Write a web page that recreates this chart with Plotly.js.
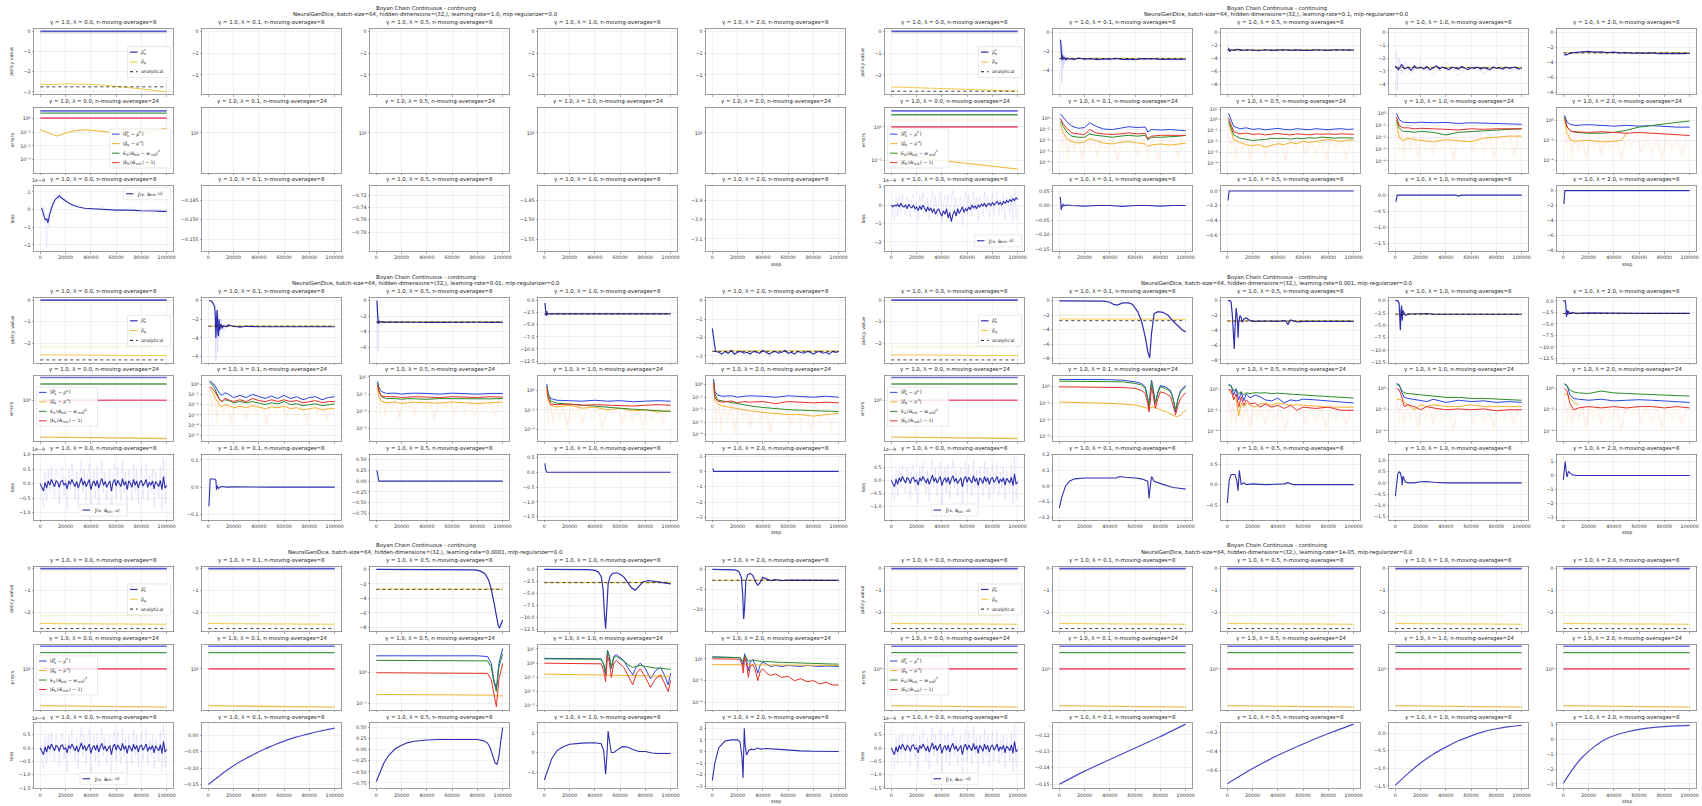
<!DOCTYPE html>
<html><head><meta charset="utf-8">
<script src="https://cdn.plot.ly/plotly-3.0.1.min.js"></script>
<style>html,body{margin:0;padding:0;background:#fff}#chart{width:1702px;height:806px}</style>
</head><body><div id="chart"></div>
<script>
// ---------------- text / categories ----------------
const SUPTITLE = 'Boyan Chain Continuous - continuing';
const LEARNING_RATES = ['1.0','0.1','0.01','0.001','0.0001','1e-05'];
const LAMBDAS = ['0.0','0.1','0.5','1.0','2.0'];
const MOVING_AVG = [8, 24, 8];
const ROW_LABELS = ['policy value','errors','loss'];
const STEP_TICKS = [0,20000,40000,60000,80000,100000];
const STEP_LABELS = ['0','20000','40000','60000','80000','100000'];
// legend labels: plain strings, or [superscript, subscript] pairs
const LEGEND_PV_SEGS = [['ρ̂',['c','π']], ['ρ̂',['','φ']], ['analytical']];
const LEGEND_ERR_SEGS = [
  ['|ρ̂',['c','π'],' − ρ',['π',''],'|'],
  ['|ρ̂',['','φ'],' − ρ',['π',''],'|'],
  ['E',['','D'],'(ŵ',['','π/D'],' − w',['','π/D'],')',['2','']],
  ['|E',['','D'],'(ŵ',['','π/D'],') − 1|']
];
const LEGEND_LOSS_SEGS = [['Ĵ(v, ŵ',['','π/D'],', u)']];
const SUPERSCRIPT = {'0':'⁰','1':'¹','2':'²','3':'³','4':'⁴','5':'⁵','6':'⁶','7':'⁷','8':'⁸','9':'⁹','-':'⁻'};

// ---------------- shared step grids ----------------
const X_FLAT = [0, 100000];
const X_FAINT_MID = [0, 88000];
const S5K = [0,5000,10000,15000,20000,25000,30000,35000,40000,45000,50000,55000,60000,65000,70000,75000,80000,85000,90000,95000,100000];
const S10 = [0,10000,20000,30000,40000,50000,60000,70000,80000,90000,100000];
const STEP_2500 = Array.from({length:41}, (_, i) => i * 2500);
const STEP_1250 = Array.from({length:81}, (_, i) => i * 1250);

// ---------------- common flat series ----------------
const PV_NAVY_FLAT = [0, 0];
const PV_FAINT_TOP = [-0.1, -0.1];
const PV_FAINT_MID = [-2.15, -2.15];
const PV_GOLD_FLAT = [-2.52, -2.55];
const PV_ANALYTICAL = [-2.75, -2.75];
const PV_CONV_GOLD = [-2.72, -2.72];
const ERR_BLUE_FLAT = [3.5, 3.5];
const ERR_GREEN_FLAT = [2.45, 2.45];
const ERR_RED_FLAT = [1.0, 1.0];
const ERR_GOLD_FLAT = [0.13, 0.12];

const LOSS_NOISE = [0.0,-0.12,-0.25,0.05,-0.15,0.1,-0.05,0.15,0.0,-0.1,
 0.1,0.05,-0.12,0.08,0.12,-0.05,0.02,-0.18,0.1,-0.02,
 0.15,0.05,-0.1,0.08,-0.15,0.02,0.2,-0.05,0.1,-0.1,
 0.05,0.15,-0.2,0.0,0.1,-0.08,0.12,-0.15,0.05,0.18,
 -0.05,0.08,-0.12,0.02,0.1,-0.25,0.05,0.15,-0.08,0.12,
 0.0,-0.1,0.18,-0.05,0.08,-0.2,0.1,0.02,-0.12,0.15,
 -0.05,0.1,-0.15,0.05,0.12,-0.08,0.02,0.15,-0.12,0.05,
 -0.05,0.1,-0.18,0.08,0.0,-0.1,0.12,-0.2,0.25,-0.15,
 -0.05];
const LOSS_RAW = [0.1,-0.5,-0.8,0.4,-0.6,0.5,-0.3,0.6,-0.2,-0.5,
 0.5,0.3,-0.7,0.4,0.6,-0.4,0.2,-0.9,0.5,-0.2,
 0.7,0.1,-0.5,0.4,-0.8,0.2,0.8,-0.3,0.5,-0.6,
 0.3,0.7,-1.0,0.1,0.5,-0.5,0.6,-0.7,0.3,0.8,
 -0.3,0.4,-0.6,0.2,0.5,-1.1,0.3,0.7,-0.5,0.6,
 0.1,-0.6,0.8,-0.3,0.4,-0.9,0.5,0.1,-0.6,0.7,
 -0.3,0.5,-0.7,0.3,0.6,-0.5,0.1,0.7,-0.6,0.3,
 -0.3,0.5,-0.8,0.4,0.0,-0.5,0.6,-0.9,0.9,-0.7,
 -0.2];
const RAW_SPIKE_X = [1000,3000,5000,7000,9000,12000,15000,18000,21000,24000,27000,30000,34000,38000,42000,46000,50000,54000,58000,62000,66000,70000,74000,78000,82000,86000,90000,94000,98000];
const RAW_SPIKE_R = [0.5,0.005,0.08,0.0008,0.05,0.002,0.04,0.0003,0.05,0.003,0.04,0.0006,0.05,0.002,0.04,0.0002,0.05,0.004,0.04,0.0008,0.05,0.001,0.04,0.0003,0.05,0.002,0.04,0.0005,0.05];
const RAW_SPIKE_Y = [0.1,0.0005,0.02,0.0002,0.01,0.0008,0.015,0.0001,0.01,0.001,0.008,0.0003,0.012,0.0006,0.01,0.0001,0.01,0.002,0.009,0.0004,0.012,0.0003,0.01,0.0001,0.01,0.0008,0.009,0.0002,0.01];

// ---------------- panel A : learning-rate 1.0 ----------------
const X_A_GOLD = [0,10000,20000,30000,40000,50000,60000,70000,80000,90000,100000];
const PV_A_GOLD = [-2.62,-2.64,-2.6,-2.6,-2.63,-2.67,-2.72,-2.78,-2.85,-2.93,-3.0];
const ERR_A_BLUE = [3.5,3.5];
const ERR_A_GREEN = [2.4,2.4];
const ERR_A_RED = [1.05,1.05];
const X_A_ERR_GOLD = [0,4000,8000,13000,20000,28000,36000,45000,55000,65000,75000,85000,92000,100000];
const ERR_A_GOLD = [0.15,0.11,0.075,0.052,0.085,0.13,0.15,0.12,0.1,0.09,0.08,0.09,0.14,0.2];
const X_A_LOSS = [1000,2000,3000,4000,5000,6000,7000,8000,10000,12000,14000,15000,16000,18000,20000,23000,26000,30000,35000,40000,45000,50000,55000,60000,65000,70000,75000,80000,85000,90000,95000,100000];
const LOSS_A = [0.1,-0.1,-0.3,-0.6,-0.5,-0.75,-0.4,-0.1,0.3,0.6,0.7,0.8,0.7,0.6,0.5,0.35,0.25,0.15,0.08,0.05,0.02,0.0,-0.02,-0.03,-0.02,-0.05,-0.04,-0.06,-0.05,-0.08,-0.1,-0.1];
const X_A_LOSS_RAW = [1000,2000,3000,4000,5000,6000,7000,8000,9000,10000,12000,14000,16000,18000,20000,25000,30000,40000,50000,60000,70000,80000,90000,100000];
const LOSS_A_RAW = [0.3,-0.4,0.2,-1.2,-2.2,-0.2,-1.0,0.2,-0.2,0.6,0.9,0.5,1.0,0.4,0.7,0.2,0.3,-0.1,0.15,-0.15,0.1,-0.2,0.05,-0.15];

// ---------------- panel B : learning-rate 0.1 ----------------
const X_B_GOLD = [0,25000,50000,75000,100000];
const PV_B_GOLD = [-2.55,-2.6,-2.65,-2.7,-2.74];
const X_B2 = [1000,1500,2000,2500,3000,4000,5000,6000,8000,10000,12000,15000,20000,25000,30000,35000,40000,45000,50000,55000,60000,65000,70000,75000,80000,85000,90000,95000,100000];
const PV_B2 = [-0.8,-1.6,-2.9,-2.4,-2.8,-2.6,-2.9,-2.7,-2.8,-2.75,-2.85,-2.7,-2.8,-2.75,-2.85,-2.78,-2.8,-2.72,-2.82,-2.8,-2.85,-2.75,-2.8,-2.78,-2.82,-2.8,-2.78,-2.8,-2.8];
const X_B2_RAW = [1000,1500,2000,2500,3000,3500,4000,5000,6000,8000,10000,15000,20000,30000,40000,50000,55000,60000,70000,80000,90000,100000];
const PV_B2_RAW = [-0.8,-3.5,-5.3,-1.5,-3.8,-2.2,-3.3,-2.4,-3.1,-2.5,-3.0,-2.6,-3.0,-2.6,-3.0,-2.5,-3.1,-2.7,-2.9,-2.6,-3.0,-2.8];
const X_B3 = [1000,2000,3000,5000,8000,12000,16000,20000,25000,30000,35000,40000,45000,50000,55000,60000,65000,70000,75000,80000,85000,90000,95000,100000];
const PV_B3 = [-2.4,-3.0,-2.7,-2.8,-2.65,-2.8,-2.7,-2.75,-2.85,-2.7,-2.8,-2.75,-2.7,-2.8,-2.72,-2.78,-2.8,-2.7,-2.75,-2.8,-2.7,-2.75,-2.72,-2.75];
const PV_B4 = [-2.6,-2.9,-2.5,-2.85,-2.7,-2.95,-2.6,-2.8,-2.7,-2.85,
 -2.65,-2.9,-2.75,-2.6,-2.85,-2.7,-2.8,-2.9,-2.7,-2.75,
 -2.85,-2.65,-2.8,-2.9,-2.75,-2.8,-2.7,-2.85,-2.75,-2.8,
 -2.9,-2.7,-2.8,-2.75,-2.85,-2.7,-2.8,-2.75,-2.7,-2.85,
 -2.75];
const X_B4_RAW = [1000,1500,2000,3000,5000,8000,12000,20000,30000,40000,50000,60000,70000,80000,90000,100000];
const PV_B4_RAW = [-1.5,-4.5,-3.5,-2.0,-3.3,-2.2,-3.2,-2.4,-3.3,-2.3,-3.4,-2.5,-3.2,-2.4,-3.1,-2.6];
const X_B5 = [1000,2000,3000,5000,8000,10000,15000,20000,25000,30000,35000,40000,45000,50000,55000,60000,65000,70000,75000,80000,85000,90000,95000,100000];
const PV_B5 = [-3.1,-2.9,-3.0,-2.8,-2.7,-2.65,-2.6,-2.55,-2.65,-2.6,-2.7,-2.65,-2.75,-2.7,-2.8,-2.75,-2.8,-2.75,-2.85,-2.8,-2.85,-2.8,-2.85,-2.8];
const ERR_B1_BLUE = [3.0,3.0], ERR_B1_GREEN = [2.3,2.3], ERR_B1_FAINT = [1.6,1.6], ERR_B1_RED = [1.0,1.0];
const X_B_ERR_GOLD = [0,20000,35000,50000,70000,85000,100000];
const ERR_B_GOLD = [0.16,0.13,0.105,0.09,0.075,0.065,0.056];
const X_B2E = [1000,3000,6000,10000,15000,20000,24000,29000,35000,42000,48000,55000,62000,68000,70000,73000,80000,88000,95000,100000];
const ERR_B2_BLUE = [2.5,1.2,0.5,0.2,0.13,0.15,0.4,0.2,0.11,0.1,0.13,0.18,0.15,0.17,0.06,0.1,0.09,0.1,0.085,0.08];
const ERR_B2_RED = [1.0,0.35,0.12,0.05,0.04,0.035,0.1,0.05,0.04,0.035,0.04,0.05,0.04,0.045,0.015,0.025,0.03,0.03,0.028,0.03];
const ERR_B2_GREEN = [0.6,0.2,0.06,0.025,0.02,0.02,0.04,0.03,0.025,0.02,0.025,0.03,0.025,0.03,0.012,0.02,0.02,0.022,0.025,0.03];
const ERR_B2_GOLD = [0.3,0.05,0.015,0.008,0.006,0.008,0.015,0.01,0.006,0.005,0.007,0.008,0.006,0.005,0.003,0.004,0.005,0.004,0.005,0.006];
const X_B3E = [1000,5000,10000,15000,20000,25000,30000,35000,40000,45000,50000,55000,60000,65000,70000,75000,80000,85000,90000,95000,100000];
const ERR_B3_BLUE = [4,0.25,0.15,0.18,0.13,0.15,0.12,0.14,0.16,0.13,0.12,0.15,0.14,0.12,0.15,0.13,0.12,0.14,0.15,0.13,0.14];
const ERR_B3_RED = [1.5,0.08,0.05,0.06,0.045,0.05,0.04,0.05,0.055,0.045,0.04,0.05,0.045,0.04,0.05,0.045,0.05,0.045,0.05,0.045,0.045];
const ERR_B3_GREEN = [0.8,0.04,0.02,0.015,0.012,0.014,0.015,0.02,0.018,0.02,0.016,0.02,0.018,0.022,0.02,0.025,0.022,0.02,0.022,0.02,0.02];
const ERR_B3_GOLD = [0.5,0.015,0.008,0.005,0.004,0.005,0.003,0.004,0.006,0.005,0.008,0.006,0.01,0.008,0.01,0.012,0.015,0.012,0.01,0.013,0.013];
const X_B4E = [1000,3000,6000,10000,15000,20000,30000,40000,50000,60000,70000,80000,90000,100000];
const ERR_B4_BLUE = [1.0,0.3,0.18,0.17,0.16,0.18,0.16,0.17,0.14,0.16,0.15,0.14,0.12,0.12];
const ERR_B4_RED = [0.5,0.1,0.06,0.06,0.05,0.055,0.05,0.045,0.04,0.05,0.045,0.05,0.05,0.05];
const ERR_B4_GREEN = [0.3,0.06,0.03,0.03,0.025,0.03,0.025,0.015,0.025,0.03,0.035,0.04,0.045,0.05];
const ERR_B4_GOLD = [0.2,0.01,0.005,0.008,0.006,0.005,0.004,0.006,0.005,0.004,0.008,0.01,0.012,0.012];
const X_B5E = [1000,3000,6000,10000,20000,30000,40000,50000,60000,70000,80000,90000,100000];
const ERR_B5_BLUE = [3,0.6,0.35,0.3,0.35,0.28,0.25,0.3,0.25,0.28,0.22,0.2,0.2];
const ERR_B5_GREEN = [2,0.2,0.08,0.06,0.05,0.05,0.06,0.1,0.2,0.3,0.45,0.6,0.8];
const ERR_B5_RED = [1.5,0.2,0.08,0.07,0.06,0.07,0.06,0.05,0.06,0.05,0.04,0.035,0.03];
const X_B5E_GOLD = [1000,3000,6000,10000,20000,30000,40000,46000,50000];
const ERR_B5_GOLD = [1.0,0.05,0.01,0.008,0.01,0.007,0.008,0.01,0.05];
const LOSS_B = [0.0,-0.1,0.0,-0.05,0.05,-0.1,0.1,-0.05,-0.1,0.0,
 -0.2,0.05,-0.1,-0.15,0.0,-0.2,-0.1,-0.3,-0.05,-0.25,
 0.0,-0.2,-0.35,-0.1,-0.3,-0.15,-0.4,-0.2,-0.5,-0.3,
 -0.2,-0.45,-0.6,-0.3,-0.5,-0.2,-0.7,-0.4,-0.9,-0.5,
 -0.3,-0.6,-0.2,-0.45,-0.3,-0.1,-0.4,-0.2,-0.3,-0.1,
 -0.25,0.0,-0.15,-0.05,-0.2,0.0,-0.1,0.05,-0.05,0.1,
 -0.1,0.05,0.1,-0.05,0.15,0.0,0.1,0.2,0.05,0.15,
 0.0,0.2,0.1,0.25,0.15,0.3,0.2,0.35,0.25,0.4,
 0.3];
const X_B_L2 = [500,1000,1500,2000,2500,3000,4000,6000,10000,20000,30000,40000,50000,60000,70000,80000,90000,100000];
const LOSS_B2 = [0.03,0.02,-0.015,0.0,-0.005,0.004,0.0,0.002,0.0,-0.002,0.0,0.0,-0.003,0.0,0.0,-0.002,0.0,0.0];
const X_B_L3 = [500,1000,1500,3000,50000,52000,54000,100000];
const LOSS_B3 = [-0.13,-0.02,0.0,0.0,-0.005,0.0,0.0,0.0];
const X_B_L4 = [500,1000,1500,3000,48000,50000,52000,100000];
const LOSS_B4 = [-0.2,-0.05,0.0,0.0,0.0,-0.03,0.0,0.0];
const X_B_L5 = [500,800,1200,2000,100000];
const LOSS_B5 = [-1.8,-0.5,0.0,0.0,0.0];

// ---------------- panel C : learning-rate 0.01 ----------------
const X_C2 = [500,2000,3000,4000,5000,5500,6000,6500,7000,7500,8000,8500,9000,10000,11000,12000,14000,16000,20000,25000,30000,40000,50000,60000,70000,80000,90000,100000];
const PV_C2 = [0,0,-0.1,-0.4,-0.6,-1.5,-4.0,-2.0,-1.0,-3.5,-3.8,-2.0,-3.2,-2.5,-3.0,-2.7,-2.8,-2.6,-2.75,-2.85,-2.75,-2.8,-2.8,-2.8,-2.78,-2.8,-2.8,-2.8];
const X_C2_RAW = [500,3000,5000,5500,6000,6500,7000,7500,8000,9000,10000,12000,15000,20000];
const PV_C2_RAW = [0,-0.3,-1.0,-3.0,-6.5,-1.0,-4.5,-5.5,-1.5,-4.0,-2.0,-3.3,-2.4,-2.9];
const X_C3 = [500,1000,1500,2000,3000,4000,6000,10000,20000,30000,40000,50000,60000,70000,80000,90000,100000];
const PV_C3 = [0,-1.5,-3.0,-2.6,-2.8,-2.7,-2.8,-2.75,-2.8,-2.78,-2.8,-2.78,-2.8,-2.8,-2.78,-2.8,-2.8];
const X_C3_RAW = [500,1000,1500,2000,3000,5000];
const PV_C3_RAW = [0,-4,-6.5,-2,-3.2,-2.8];
const X_C4 = [500,1000,1500,2000,2500,3000,5000,10000,100000];
const PV_C4 = [-0.5,-1.5,-3.2,-2.2,-2.9,-2.7,-2.75,-2.75,-2.75];
const PV_C5 = [-1.5,-2.75,-2.8,-2.9,-2.75,-2.85,-2.7,-2.9,-2.8,-2.75,
 -2.85,-2.8,-2.9,-2.75,-2.8,-2.85,-2.7,-2.8,-2.9,-2.8,
 -2.75,-2.85,-2.8,-2.7,-2.85,-2.8,-2.9,-2.75,-2.8,-2.85,
 -2.75,-2.8,-2.9,-2.8,-2.75,-2.85,-2.8,-2.9,-2.75,-2.8,
 -2.75];
const X_C2E = [1000,3000,5000,7000,9000,11000,13000,16000,20000,25000,30000,35000,40000,45000,50000,55000,60000,65000,70000,75000,80000,85000,90000,95000,100000];
const ERR_C2_BLUE = [2.0,1.5,0.8,0.3,0.12,0.08,0.15,0.1,0.05,0.08,0.05,0.1,0.06,0.04,0.07,0.04,0.08,0.04,0.06,0.03,0.05,0.06,0.03,0.05,0.06];
const ERR_C2_GREEN = [1.5,1.0,0.4,0.1,0.03,0.02,0.03,0.025,0.015,0.02,0.015,0.02,0.015,0.01,0.015,0.012,0.02,0.01,0.012,0.008,0.01,0.012,0.008,0.01,0.012];
const ERR_C2_RED = [0.5,0.4,0.2,0.08,0.03,0.02,0.04,0.03,0.02,0.03,0.02,0.04,0.025,0.02,0.03,0.02,0.03,0.02,0.025,0.015,0.02,0.025,0.015,0.02,0.02];
const ERR_C2_GOLD = [0.3,0.2,0.06,0.02,0.008,0.006,0.01,0.008,0.005,0.007,0.005,0.008,0.006,0.004,0.006,0.005,0.007,0.004,0.005,0.003,0.004,0.005,0.003,0.004,0.004];
const X_C3E = [1000,2000,4000,8000,15000,20000,25000,30000,40000,50000,60000,70000,80000,90000,100000];
const ERR_C3_BLUE = [3,0.6,0.2,0.12,0.13,0.1,0.12,0.13,0.12,0.1,0.13,0.12,0.1,0.12,0.12];
const ERR_C3_RED = [1.2,0.2,0.06,0.05,0.05,0.04,0.045,0.05,0.045,0.04,0.05,0.045,0.04,0.05,0.045];
const ERR_C3_GREEN = [2,0.3,0.05,0.03,0.03,0.025,0.03,0.028,0.025,0.03,0.028,0.03,0.025,0.028,0.03];
const ERR_C3_GOLD = [0.6,0.05,0.015,0.01,0.012,0.008,0.01,0.012,0.01,0.009,0.012,0.01,0.008,0.01,0.012];
const X_C4E = [2000,3000,5000,10000,20000,30000,40000,50000,60000,70000,80000,90000,100000];
const ERR_C4_BLUE = [5,0.5,0.15,0.1,0.09,0.08,0.1,0.08,0.09,0.07,0.08,0.09,0.08];
const ERR_C4_RED = [2,0.2,0.04,0.035,0.04,0.03,0.035,0.03,0.03,0.025,0.03,0.035,0.03];
const ERR_C4_GREEN = [3,0.5,0.08,0.05,0.04,0.03,0.025,0.02,0.015,0.012,0.01,0.008,0.007];
const ERR_C4_GOLD = [1,0.1,0.03,0.02,0.03,0.015,0.02,0.01,0.015,0.008,0.01,0.006,0.008];
const X_C5E = [1000,2000,4000,8000,15000,20000,25000,30000,40000,50000,60000,70000,80000,90000,100000];
const ERR_C5_BLUE = [3,0.3,0.15,0.12,0.13,0.1,0.12,0.13,0.12,0.1,0.13,0.12,0.1,0.12,0.1];
const ERR_C5_RED = [1.5,0.1,0.05,0.04,0.05,0.035,0.045,0.04,0.045,0.03,0.045,0.04,0.035,0.04,0.035];
const ERR_C5_GREEN = [2,0.2,0.06,0.05,0.04,0.03,0.025,0.02,0.015,0.012,0.01,0.009,0.008,0.007,0.007];
const ERR_C5_GOLD = [0.8,0.05,0.03,0.02,0.015,0.012,0.01,0.008,0.006,0.005,0.004,0.004,0.003,0.004,0.005];
const X_C_L2 = [500,1000,1500,3000,5000,6000,6500,7000,8000,10000,15000,20000,30000,40000,50000,60000,70000,80000,90000,100000];
const LOSS_C2 = [-0.07,0.02,0.03,0.03,0.03,0.025,-0.01,0.005,-0.005,0.002,0.0,0.001,0.0,-0.001,0.0,0.0,-0.001,0.0,0.0,0.0];
const X_C_L3 = [500,1000,1500,2000,3000,100000];
const LOSS_C3 = [0.25,0.18,0.05,0.0,0.0,0.0];
const X_C_L4 = [500,1000,2000,3000,100000];
const LOSS_C4 = [0.3,0.1,0.0,0.0,0.0];
const X_C_L5 = [500,1000,2000,100000];
const LOSS_C5 = [0.2,0.0,0.0,0.0];

// ---------------- panel D : learning-rate 0.001 ----------------
const X_D2 = [0,10000,20000,30000,35000,40000,43000,46000,50000,55000,58000,62000,65000,68000,70000,71500,73000,75000,78000,82000,86000,90000,94000,97000,100000];
const PV_D2 = [0,0,0,0,-0.05,-0.2,-0.5,-0.6,-0.3,-0.3,-0.5,-1.5,-2.8,-5.0,-7.0,-7.9,-4.5,-1.8,-1.5,-1.6,-2.0,-2.8,-3.5,-4.0,-4.3];
const X_D2_FAINT = [0,65000];
const PV_D2_FAINT = [-2.0,-2.0];
const X_D3 = [500,2000,3000,4000,5000,5500,6000,7000,8000,8500,9000,10000,11000,12000,13000,15000,17000,20000,30000,40000,46000,48000,50000,55000,60000,80000,100000];
const PV_D3 = [0,0,-0.2,-2,-5,-6.5,-4,-1,-2.5,-5,-3,-2,-2.3,-2.9,-2.5,-2.3,-2.6,-2.8,-2.75,-2.8,-2.7,-3.2,-2.6,-2.85,-2.8,-2.8,-2.8];
const X_D4 = [0,2000,3000,3500,4000,4500,5000,5500,6000,7000,8000,10000,15000,20000,25000,30000,40000,60000,80000,100000];
const PV_D4 = [0,0,-0.5,-3,-6,-2,-1,-4,-2,-2.5,-3,-2.7,-2.6,-2.65,-2.6,-2.75,-2.75,-2.75,-2.75,-2.75];
const X_D5 = [0,1500,2000,2500,3000,3500,4000,5000,7000,10000,20000,40000,60000,100000];
const PV_D5 = [0,0,-1,-3.5,-2,-3,-2.2,-2.8,-2.5,-2.7,-2.6,-2.7,-2.7,-2.7];
const X_D2E = [0,20000,40000,50000,60000,65000,68000,70000,71000,72000,73000,74000,76000,78000,80000,84000,88000,90000,92000,94000,96000,100000];
const ERR_D2_BLUE = [2.8,2.8,2.7,2.5,2.0,1.6,1.0,0.2,0.05,0.5,2.5,1.0,0.1,0.5,1.2,1.0,0.6,0.2,0.03,0.2,0.6,1.2];
const ERR_D2_GREEN = [2.2,2.2,2.1,2.0,1.6,1.3,0.8,0.2,0.06,0.4,2.0,0.8,0.1,0.4,1.0,0.8,0.5,0.2,0.04,0.2,0.5,1.0];
const ERR_D2_RED = [1.0,1.0,0.95,0.9,0.8,0.6,0.4,0.1,0.03,0.2,0.9,0.4,0.05,0.2,0.5,0.4,0.25,0.08,0.02,0.08,0.2,0.45];
const X_D2E_GOLD = [0,20000,40000,60000,65000,70000,75000,80000,85000,90000,93000,96000,100000];
const ERR_D2_GOLD = [0.12,0.11,0.1,0.08,0.06,0.05,0.06,0.04,0.03,0.02,0.015,0.02,0.04];
const X_D3E = [1000,3000,5000,7000,9000,11000,13000,15000,18000,22000,26000,30000,35000,40000,45000,50000,55000,60000,70000,80000,90000,100000];
const ERR_D3_BLUE = [3,2.5,0.3,1.2,0.1,0.6,0.08,0.4,0.15,0.3,0.2,0.1,0.08,0.15,0.05,0.1,0.08,0.12,0.1,0.08,0.06,0.05];
const ERR_D3_GREEN = [2.5,2.2,0.8,1.0,0.4,0.6,0.3,0.5,0.4,0.5,0.45,0.5,0.4,0.45,0.4,0.35,0.3,0.3,0.25,0.2,0.18,0.15];
const ERR_D3_RED = [1.0,0.9,0.1,0.4,0.02,0.2,0.03,0.1,0.04,0.05,0.02,0.04,0.02,0.03,0.015,0.03,0.01,0.02,0.015,0.02,0.01,0.01];
const ERR_D3_GOLD = [0.8,0.5,0.2,0.1,0.003,0.05,0.02,0.05,0.03,0.02,0.04,0.05,0.03,0.05,0.04,0.03,0.035,0.03,0.025,0.02,0.02,0.02];
const X_D4E = [1000,3000,5000,7000,10000,15000,20000,25000,30000,40000,50000,60000,70000,80000,90000,100000];
const ERR_D4_BLUE = [3,2.5,0.5,0.15,0.12,0.1,0.08,0.06,0.1,0.05,0.08,0.06,0.07,0.05,0.06,0.05];
const ERR_D4_GREEN = [2.5,2.0,0.8,0.4,0.35,0.3,0.3,0.25,0.2,0.15,0.15,0.12,0.12,0.1,0.09,0.08];
const ERR_D4_RED = [1.0,0.8,0.2,0.02,0.03,0.02,0.01,0.02,0.015,0.01,0.012,0.01,0.012,0.008,0.01,0.01];
const ERR_D4_GOLD = [0.1,0.1,0.08,0.05,0.03,0.01,0.03,0.02,0.03,0.02,0.02,0.03,0.02,0.02,0.02,0.02];
const X_D5E = [1000,3000,5000,8000,12000,20000,30000,40000,50000,60000,70000,80000,90000,100000];
const ERR_D5_BLUE = [3,2,0.3,0.12,0.1,0.08,0.1,0.07,0.08,0.09,0.08,0.07,0.06,0.05];
const ERR_D5_GREEN = [2.5,1.8,0.8,0.5,0.4,0.35,0.6,0.4,0.35,0.3,0.3,0.25,0.22,0.2];
const ERR_D5_RED = [1.0,0.6,0.05,0.01,0.015,0.02,0.015,0.02,0.015,0.02,0.02,0.015,0.02,0.015];
const X_D5E_GOLD = [1000,3000,5000,8000,12000];
const ERR_D5_GOLD = [0.3,0.3,0.15,0.05,0.03];
const X_D_L2 = [0,2000,5000,8000,12000,20000,30000,40000,45000,48000,52000,60000,65000,70000,71000,72000,73000,75000,78000,82000,86000,90000,95000,100000];
const LOSS_D2 = [-0.14,-0.07,0.0,0.03,0.045,0.05,0.05,0.05,0.05,0.06,0.055,0.05,0.045,0.03,-0.08,0.0,0.06,0.03,0.02,0.01,0.0,-0.01,-0.015,-0.02];
const X_D_L3 = [0,1500,3000,6000,7500,8500,9500,11000,13000,15000,20000,30000,45000,48000,52000,60000,80000,100000];
const LOSS_D3 = [-0.45,0.1,0.25,0.25,0.1,-0.15,0.35,0.0,0.05,0.0,0.02,0.0,0.02,0.05,0.0,0.0,0.0,0.0];
const X_D_L4 = [0,1000,2000,3000,4000,5000,5500,6000,7000,8000,10000,15000,20000,25000,30000,40000,60000,80000,100000];
const LOSS_D4 = [-0.6,0.0,0.4,0.5,0.45,0.2,-0.1,0.3,0.15,0.05,0.0,0.0,0.05,0.06,0.03,0.0,0.0,0.0,0.0];
const X_D_L5 = [0,800,1500,2500,3000,4000,5000,7000,10000,100000];
const LOSS_D5 = [-0.3,0.5,1.0,0.1,-0.1,0.3,0.2,0.05,0.0,0.0];

// ---------------- panel E : learning-rate 0.0001 ----------------
const X_E3 = [0,20000,40000,60000,70000,78000,82000,86000,89000,91000,93000,95000,96500,97500,98500,99500,100000];
const PV_E3 = [0,0,0,0,0,-0.05,-0.2,-0.6,-1.5,-2.8,-4.5,-6.5,-7.8,-8.1,-7.5,-7.2,-7.0];
const X_E4 = [0,20000,35000,40000,43000,45000,46500,47500,48500,49500,50500,52000,54000,57000,60000,63000,66000,69000,72000,75000,78000,82000,86000,90000,95000,100000];
const PV_E4 = [0,0,-0.05,-0.2,-0.6,-1.5,-4,-9,-12.3,-8,-3,-1.5,-0.8,-0.7,-1.0,-1.6,-2.6,-3.8,-4.3,-3.5,-2.6,-2.3,-2.4,-2.6,-2.8,-3.0];
const X_E5 = [0,10000,18000,21000,23000,24000,24800,25500,26500,28000,30000,32000,34000,36000,38000,40000,43000,46000,50000,55000,60000,70000,80000,100000];
const PV_E5 = [0,0,-0.1,-0.5,-2,-6,-12.5,-10,-3,-1.3,-1.0,-1.5,-3.0,-4.0,-3.2,-2.0,-2.4,-2.8,-2.6,-2.8,-2.7,-2.75,-2.75,-2.75];
const X_E3E = [0,80000,88000,91000,93000,95000,97000,100000];
const ERR_E3_BLUE = [3.5,3.5,3.3,2.0,0.6,0.3,2.0,6.0];
const ERR_E3_GREEN = [2.5,2.5,2.4,1.5,0.5,0.25,1.5,4.0];
const ERR_E3_RED = [1.0,1.0,0.95,0.6,0.2,0.08,0.6,2.0];
const ERR_E3_GOLD = [0.2,0.2,0.2,0.19,0.18,0.18,0.18,0.18];
const X_E4E = [0,20000,40000,45000,47000,48500,50000,51500,53000,55000,57000,60000,63000,66000,70000,73000,76000,80000,84000,88000,92000,95000,98000,100000];
const ERR_E4_BLUE = [2.2,2.2,2.2,2.0,0.8,0.15,8.0,3.0,0.4,3.0,4.0,2.5,1.5,0.5,0.15,0.6,1.0,0.4,0.08,0.3,0.5,0.15,0.03,0.2];
const ERR_E4_GREEN = [2.0,2.0,2.0,1.9,0.8,0.2,7.0,3.0,0.5,2.5,3.0,2.0,1.4,0.8,0.5,0.6,0.7,0.6,0.5,0.45,0.45,0.4,0.38,0.38];
const ERR_E4_RED = [1.0,1.0,1.0,0.9,0.3,0.05,3.5,1.2,0.1,1.0,1.5,0.9,0.5,0.15,0.03,0.2,0.4,0.1,0.02,0.08,0.15,0.04,0.01,0.06];
const ERR_E4_GOLD = [0.17,0.12];
const X_E5E = [0,15000,20000,22000,23500,24500,25500,27000,28500,30000,32000,34000,36000,38000,40000,43000,46000,50000,55000,60000,65000,70000,75000,80000,85000,90000,95000,100000];
const ERR_E5_BLUE = [1.5,1.5,1.45,1.3,0.6,0.2,3.0,1.0,0.08,0.5,0.8,0.3,0.05,0.3,0.5,0.3,0.2,0.25,0.2,0.25,0.22,0.2,0.25,0.22,0.2,0.22,0.2,0.2];
const ERR_E5_GREEN = [1.5,1.5,1.45,1.3,0.8,0.5,2.0,1.0,0.6,0.7,0.8,0.7,0.6,0.6,0.6,0.55,0.5,0.5,0.48,0.45,0.42,0.4,0.4,0.38,0.36,0.35,0.34,0.33];
const ERR_E5_RED = [1.0,1.0,0.95,0.8,0.3,0.05,1.5,0.4,0.02,0.2,0.3,0.1,0.01,0.08,0.12,0.05,0.03,0.04,0.02,0.025,0.01,0.015,0.008,0.01,0.005,0.007,0.004,0.004];
const ERR_E5_GOLD = [0.3,0.25];
const LOSS_E2 = [-0.15,-0.135,-0.12,-0.106,-0.093,-0.081,-0.07,-0.06,-0.05,-0.041,-0.033,-0.025,-0.018,-0.011,-0.005,0.0,0.005,0.01,0.014,0.018,0.022];
const X_E_L3 = [0,3000,6000,10000,15000,20000,25000,30000,40000,50000,60000,70000,80000,85000,88000,90000,92000,94000,95500,97000,98500,100000];
const LOSS_E3 = [-0.72,-0.5,-0.3,-0.12,0.02,0.1,0.16,0.19,0.22,0.23,0.235,0.235,0.23,0.2,0.15,0.05,-0.12,-0.3,-0.33,-0.15,0.2,0.5];
const X_E_L4 = [0,3000,6000,10000,15000,20000,30000,40000,45000,47000,48500,49500,50500,51500,53000,55000,58000,62000,66000,70000,75000,80000,85000,90000,95000,100000];
const LOSS_E4 = [-1.4,-0.8,-0.3,0.1,0.3,0.42,0.48,0.5,0.45,0.1,-1.1,-0.2,1.1,0.6,0.0,0.0,0.15,0.3,0.28,0.15,0.05,0.05,-0.02,-0.05,-0.05,-0.05];
const X_E_L5 = [0,2000,5000,10000,15000,20000,22000,23500,24300,24800,25300,26000,27000,29000,31000,33000,36000,38000,42000,50000,60000,70000,80000,90000,100000];
const LOSS_E5 = [-2.5,-1.0,0.3,0.9,1.0,1.0,0.8,-0.5,-2.3,0.5,2.0,0.5,-0.3,0.1,0.2,0.15,0.3,0.2,0.25,0.2,0.1,0.05,0.02,0.0,0.0];

// ---------------- panel F : learning-rate 1e-05 ----------------
const X_F_L = [0,20000,40000,60000,80000,100000];
const LOSS_F2 = [-0.15,-0.142,-0.135,-0.128,-0.121,-0.1135];
const LOSS_F3 = [-0.74,-0.58,-0.44,-0.32,-0.21,-0.11];
const LOSS_F4 = [-1.48,-1.15,-0.85,-0.6,-0.4,-0.22,-0.08,0.04,0.12,0.18,0.22];
const X_F_L5 = [0,5000,10000,15000,20000,25000,30000,35000,40000,50000,60000,70000,80000,90000,100000];
const LOSS_F5 = [-2.95,-2.3,-1.7,-1.2,-0.8,-0.45,-0.15,0.08,0.25,0.5,0.68,0.8,0.87,0.92,0.95];

// ================= styles =================
const FONT = 'DejaVu Sans, sans-serif';
const FS_TICK = 4.75, FS_TITLE = 5.4, FS_LEG = 4.6;
const STY = {
  pvN:  {color:'#2f2fae', width:1.2},
  pvNf: {color:'#5656cc', width:1.7},
  pvRaw:{color:'rgba(130,130,235,0.35)', width:0.6},
  pvG:  {color:'#f1c232', width:0.9},
  pvGf: {color:'rgba(242,205,90,0.45)', width:0.7},
  an:   {color:'#1a1a1a', width:0.8, dash:'dot'},
  eB: {color:'#2c44e0', width:1.0}, eG: {color:'#2a8c2a', width:1.0},
  eR: {color:'#e6302a', width:1.0}, eO: {color:'#f2b12c', width:1.0},
  eBf:{color:'#6c6ce0', width:1.6}, eGf:{color:'#4c9a4c', width:1.4},
  eRf:{color:'#ef5d7c', width:1.6}, eOf:{color:'#e9c15a', width:1.3},
  eFaint:{color:'rgba(240,200,90,0.45)', width:0.8},
  rawR:{color:'rgba(240,110,140,0.22)', width:0.5},
  rawY:{color:'rgba(245,190,70,0.25)', width:0.5},
  lN: {color:'#2f2fae', width:1.1},
  lNs:{color:'#4a4ac6', width:1.2, shape:'spline', smoothing:0.6},
  lRaw:{color:'rgba(140,140,235,0.28)', width:0.6}
};
const T = (st, x, y) => [st, x, y];
const lin = (r, t, d, s) => ({log:false, r, t, d, s});
const lg = (r, e, s) => ({log:true, r, e, s});

const STD_PV_SERIES = [T('pvGf',X_FLAT,PV_FAINT_TOP),T('pvGf',X_FAINT_MID,PV_FAINT_MID),T('pvG',X_FLAT,PV_GOLD_FLAT),T('an',X_FLAT,PV_ANALYTICAL),T('pvNf',X_FLAT,PV_NAVY_FLAT)];
const STD_ERR_SERIES = [T('eBf',X_FLAT,ERR_BLUE_FLAT),T('eOf',X_FLAT,ERR_GOLD_FLAT),T('eGf',X_FLAT,ERR_GREEN_FLAT),T('eRf',X_FLAT,ERR_RED_FLAT)];
const STD_PV = () => lin([-2.89,0.11],[0,-1,-2],0,STD_PV_SERIES);
const STD_ERR = () => lg([-0.99,0.58],[0],STD_ERR_SERIES);
const ERRS = (x,b,o,g,r,xo) => [T('rawR',RAW_SPIKE_X,RAW_SPIKE_R),T('rawY',RAW_SPIKE_X,RAW_SPIKE_Y),T('eB',x,b),T('eO',xo||x,o),T('eG',x,g),T('eR',x,r)];
const ERRS_CLEAN = (x,b,o,g,r,xo) => [T('eB',x,b),T('eO',xo||x,o),T('eG',x,g),T('eR',x,r)];
const CONV = (x,y,rx,ry) => (rx?[T('pvRaw',rx,ry)]:[]).concat([T('pvG',X_FLAT,PV_CONV_GOLD),T('pvN',x,y),T('an',X_FLAT,PV_ANALYTICAL)]);
const T125 = [0,-2.5,-5,-7.5,-10,-12.5];
const LOSS0 = (r,t,d) => lin(r,t,d,[T('lRaw',STEP_1250,LOSS_RAW),T('lN',STEP_1250,LOSS_NOISE)]);

const PANELS = [
 [ // A lr=1.0
  [ lin([-3.12,0.12],[0,-1,-2,-3],0,[T('pvGf',X_FLAT,PV_FAINT_TOP),T('pvG',X_A_GOLD,PV_A_GOLD),T('an',X_FLAT,PV_ANALYTICAL),T('pvNf',X_FLAT,PV_NAVY_FLAT)]),
    lin([-2.89,0.11],[0,-1,-2],0,[]), lin([-2.89,0.11],[0,-1,-2],0,[]), lin([-2.89,0.11],[0,-1,-2],0,[]), lin([-2.89,0.11],[0,-1,-2],0,[]) ],
  [ lg([-3.95,0.8],[0,-1,-2,-3],[T('eBf',X_FLAT,ERR_A_BLUE),T('eO',X_A_ERR_GOLD,ERR_A_GOLD),T('eGf',X_FLAT,ERR_A_GREEN),T('eRf',X_FLAT,ERR_A_RED)]),
    lg([-0.61,0.39],[0],[]), lg([-0.61,0.39],[0],[]), lg([-0.61,0.39],[0],[]), lg([-0.61,0.39],[0],[]) ],
  [ lin([-2.35,1.35],[1,0,-1,-2],0,[T('lRaw',X_A_LOSS_RAW,LOSS_A_RAW),T('lN',X_A_LOSS,LOSS_A)]),
    lin([-0.1581,-0.1413],[-0.145,-0.15,-0.155],3,[]),
    lin([-0.811,-0.705],[-0.72,-0.74,-0.76,-0.78],2,[]),
    lin([-1.581,-1.4125],[-1.45,-1.5,-1.55],2,[]),
    lin([-3.163,-2.825],[-2.9,-3.0,-3.1],1,[]) ]
 ],
 [ // B lr=0.1
  [ lin([-2.89,0.11],[0,-1,-2],0,[T('pvGf',X_FLAT,PV_FAINT_TOP),T('pvG',X_B_GOLD,PV_B_GOLD),T('an',X_FLAT,PV_ANALYTICAL),T('pvNf',X_FLAT,PV_NAVY_FLAT)]),
    lin([-6.45,0.32],[0,-2,-4],0,CONV(X_B2,PV_B2,X_B2_RAW,PV_B2_RAW)),
    lin([-9.5,0.47],[0,-2,-4,-6,-8],0,CONV(X_B3,PV_B3)),
    lin([-4.8,0.24],[0,-1,-2,-3,-4],0,CONV(STEP_2500,PV_B4,X_B4_RAW,PV_B4_RAW)),
    lin([-8.2,0.4],[0,-2,-4,-6,-8],0,CONV(X_B5,PV_B5)) ],
  [ lg([-1.36,0.58],[0,-1],[T('eBf',X_FLAT,ERR_B1_BLUE),T('eO',X_B_ERR_GOLD,ERR_B_GOLD),T('eGf',X_FLAT,ERR_B1_GREEN),T('eFaint',X_FLAT,ERR_B1_FAINT),T('eRf',X_FLAT,ERR_B1_RED)]),
    lg([-4.9,1.0],[0,-1,-2,-3,-4],ERRS(X_B2E,ERR_B2_BLUE,ERR_B2_GOLD,ERR_B2_GREEN,ERR_B2_RED)),
    lg([-4.9,1.15],[1,0,-1,-2,-3,-4],ERRS(X_B3E,ERR_B3_BLUE,ERR_B3_GOLD,ERR_B3_GREEN,ERR_B3_RED)),
    lg([-5.0,0.5],[0,-1,-2,-3,-4],ERRS(X_B4E,ERR_B4_BLUE,ERR_B4_GOLD,ERR_B4_GREEN,ERR_B4_RED)),
    lg([-5.2,1.25],[0,-2,-4],ERRS(X_B5E,ERR_B5_BLUE,ERR_B5_GOLD,ERR_B5_GREEN,ERR_B5_RED,X_B5E_GOLD)) ],
  [ lin([-2.5,1.05],[1,0,-1,-2],0,[T('lRaw',STEP_1250,LOSS_RAW),T('lN',STEP_1250,LOSS_B)]),
    lin([-0.157,0.068],[0.05,0,-0.05,-0.1,-0.15],2,[T('lN',X_B_L2,LOSS_B2)]),
    lin([-0.82,0.07],[0,-0.2,-0.4,-0.6],1,[T('lN',X_B_L3,LOSS_B3)]),
    lin([-1.74,0.29],[0,-0.5,-1,-1.5],1,[T('lN',X_B_L4,LOSS_B4)]),
    lin([-8.1,0.65],[0,-2,-4,-6,-8],0,[T('lN',X_B_L5,LOSS_B5)]) ]
 ],
 [ // C lr=0.01
  [ STD_PV(),
    lin([-6.7,0.33],[0,-2,-4,-6],0,CONV(X_C2,PV_C2,X_C2_RAW,PV_C2_RAW)),
    lin([-8.04,0.4],[0,-2,-4,-6],0,CONV(X_C3,PV_C3,X_C3_RAW,PV_C3_RAW)),
    lin([-12.9,0.6],T125,1,CONV(X_C4,PV_C4)),
    lin([-3.38,0.17],[0,-1,-2,-3],0,CONV(STEP_2500,PV_C5)) ],
  [ STD_ERR(),
    lg([-5.6,0.8],[0,-1,-2,-3,-4,-5],ERRS(X_C2E,ERR_C2_BLUE,ERR_C2_GOLD,ERR_C2_GREEN,ERR_C2_RED)),
    lg([-6.5,1.1],[1,-1,-3,-5],ERRS(X_C3E,ERR_C3_BLUE,ERR_C3_GOLD,ERR_C3_GREEN,ERR_C3_RED)),
    lg([-5.25,1.5],[0,-2,-4],ERRS(X_C4E,ERR_C4_BLUE,ERR_C4_GOLD,ERR_C4_GREEN,ERR_C4_RED)),
    lg([-4.55,0.7],[0,-1,-2,-3,-4],ERRS(X_C5E,ERR_C5_BLUE,ERR_C5_GOLD,ERR_C5_GREEN,ERR_C5_RED)) ],
  [ LOSS0([-1.24,1.01],[1,0.5,0,-0.5,-1],1),
    lin([-0.12,0.12],[0.1,0,-0.1],1,[T('lN',X_C_L2,LOSS_C2)]),
    lin([-0.9,0.62],[0.5,0.25,0,-0.25,-0.5,-0.75],2,[T('lN',X_C_L3,LOSS_C3)]),
    lin([-1.6,0.6],[0.5,0,-0.5,-1,-1.5],1,[T('lN',X_C_L4,LOSS_C4)]),
    lin([-3.15,1.1],[1,0,-1,-2,-3],0,[T('lN',X_C_L5,LOSS_C5)]) ]
 ],
 [ // D lr=0.001
  [ STD_PV(),
    lin([-8.6,0.43],[0,-2,-4,-6,-8],0,[T('pvGf',X_D2_FAINT,PV_D2_FAINT),T('pvG',X_FLAT,PV_GOLD_FLAT),T('pvN',X_D2,PV_D2),T('an',X_FLAT,PV_ANALYTICAL)]),
    lin([-8.4,0.4],[0,-2,-4,-6,-8],0,CONV(X_D3,PV_D3)),
    lin([-12.6,0.6],T125,1,CONV(X_D4,PV_D4)),
    lin([-13.5,0.7],T125,1,CONV(X_D5,PV_D5)) ],
  [ STD_ERR(),
    lg([-3.3,0.65],[0,-1,-2,-3],ERRS_CLEAN(X_D2E,ERR_D2_BLUE,ERR_D2_GOLD,ERR_D2_GREEN,ERR_D2_RED,X_D2E_GOLD)),
    lg([-5,1.3],[0,-2,-4],ERRS(X_D3E,ERR_D3_BLUE,ERR_D3_GOLD,ERR_D3_GREEN,ERR_D3_RED)),
    lg([-5,1.2],[0,-2,-4],ERRS(X_D4E,ERR_D4_BLUE,ERR_D4_GOLD,ERR_D4_GREEN,ERR_D4_RED)),
    lg([-5,1.2],[0,-2,-4],ERRS(X_D5E,ERR_D5_BLUE,ERR_D5_GOLD,ERR_D5_GREEN,ERR_D5_RED,X_D5E_GOLD)) ],
  [ LOSS0([-1.52,1.0],[0.5,0,-0.5,-1],1),
    lin([-0.215,0.2],[0.2,0.1,0,-0.1,-0.2],1,[T('lN',X_D_L2,LOSS_D2)]),
    lin([-0.86,0.74],[0.5,0,-0.5],1,[T('lN',X_D_L3,LOSS_D3)]),
    lin([-1.66,1.28],[1,0.5,0,-0.5,-1,-1.5],1,[T('lN',X_D_L4,LOSS_D4)]),
    lin([-3.15,1.5],[1,0,-1,-2,-3],0,[T('lN',X_D_L5,LOSS_D5)]) ]
 ],
 [ // E lr=0.0001
  [ STD_PV(), STD_PV(),
    lin([-8.6,0.43],[0,-2,-4,-6,-8],0,CONV(X_E3,PV_E3)),
    lin([-12.9,0.64],T125,1,CONV(X_E4,PV_E4)),
    lin([-15.7,0.78],[0,-5,-10],0,CONV(X_E5,PV_E5)) ],
  [ STD_ERR(), STD_ERR(),
    lg([-1.2,0.9],[0,-1],ERRS_CLEAN(X_E3E,ERR_E3_BLUE,ERR_E3_GOLD,ERR_E3_GREEN,ERR_E3_RED)),
    lg([-3.3,1.3],[1,0,-1,-2,-3],ERRS_CLEAN(X_E4E,ERR_E4_BLUE,ERR_E4_GOLD,ERR_E4_GREEN,ERR_E4_RED,X_FLAT)),
    lg([-4.7,1.3],[0,-2,-4],ERRS_CLEAN(X_E5E,ERR_E5_BLUE,ERR_E5_GOLD,ERR_E5_GREEN,ERR_E5_RED,X_FLAT)) ],
  [ LOSS0([-1.52,0.94],[0.5,0,-0.5,-1,-1.5],1),
    lin([-0.162,0.037],[0,-0.05,-0.1,-0.15],2,[T('lNs',S5K,LOSS_E2)]),
    lin([-0.875,0.6],[0.5,0.25,0,-0.25,-0.5,-0.75],2,[T('lN',X_E_L3,LOSS_E3)]),
    lin([-1.83,1.5],[1,0,-1],0,[T('lN',X_E_L4,LOSS_E4)]),
    lin([-3.2,2.45],[2,1,0,-1,-2,-3],0,[T('lN',X_E_L5,LOSS_E5)]) ]
 ],
 [ // F lr=1e-05
  [ STD_PV(), STD_PV(), STD_PV(), STD_PV(), STD_PV() ],
  [ STD_ERR(), STD_ERR(), STD_ERR(), STD_ERR(), STD_ERR() ],
  [ LOSS0([-1.52,0.94],[0.5,0,-0.5,-1,-1.5],1),
    lin([-0.1525,-0.1129],[-0.12,-0.13,-0.14,-0.15],2,[T('lNs',X_F_L,LOSS_F2)]),
    lin([-0.79,-0.1],[-0.2,-0.4,-0.6],1,[T('lNs',X_F_L,LOSS_F3)]),
    lin([-1.57,0.28],[0,-0.5,-1,-1.5],1,[T('lNs',S10,LOSS_F4)]),
    lin([-3.3,1.1],[1,0,-1,-2,-3],0,[T('lNs',X_F_L5,LOSS_F5)]) ]
 ]
];

// ================= geometry (pixels) =================
const W = 1702, H = 806, PANEL_W = 851, PANEL_H = 806/3;
const COL_LEFT = [34, 202, 370, 538, 706], AX_W = 139;
const ROW_TOP = [29, 107.4, 185.8], AX_H = 65.3;
// legend placement per panel: [loc, top fraction of axes]
const LEG_LOC = [
  {err:['right',0.33], loss:['right',0.03]},
  {err:['left',0.33],  loss:['right',0.75]},
  {err:['left',0.17],  loss:['center',0.76]},
  {err:['left',0.17],  loss:['center',0.76]},
  {err:['left',0.17],  loss:['center',0.76]},
  {err:['left',0.17],  loss:['center',0.76]}
];
const fx = px => px / W, fy = py => 1 - py / H;
const MINUS = s => String(s).replace('-', '\u2212');
const SUP = e => String(e).split('').map(ch => SUPERSCRIPT[ch]).join('');

const data = [];
const layout = {
  width: W, height: H, margin:{l:0,r:0,t:0,b:0}, autosize:false,
  paper_bgcolor:'#ffffff', plot_bgcolor:'#ffffff', showlegend:false,
  font:{family:FONT, size:FS_TICK, color:'#222'}, annotations:[], shapes:[]
};
const AXSTYLE = {showline:true, mirror:true, linecolor:'#5a5a5a', linewidth:0.6,
  showgrid:true, gridcolor:'#e3e3e3', gridwidth:0.5, zeroline:false,
  ticks:'outside', ticklen:1.8, tickwidth:0.5, tickcolor:'#5a5a5a',
  tickfont:{family:FONT, size:FS_TICK, color:'#333'}, fixedrange:true, autorange:false};
const ann = (x, y, text, o) => layout.annotations.push(Object.assign({xref:'paper', yref:'paper', x:fx(x), y:fy(y), text, showarrow:false, borderpad:0,
   font:{family:FONT, size:FS_TITLE, color:'#222'}, xanchor:'center', yanchor:'middle'}, o||{}));

// text measuring for legend labels with sub/superscripts
const mctx = document.createElement('canvas').getContext('2d');
const textW = (t, size) => { mctx.font = size + 'px "DejaVu Sans"'; return mctx.measureText(t).width; };
function rich(x, y, segs, size) {
  let cx = x;
  segs.forEach(sg => {
    if (typeof sg === 'string') {
      const lead = sg.length - sg.replace(/^\s+/, '').length;
      const body = sg.trim();
      ann(cx + textW(sg.slice(0, lead), size), y, body, {xanchor:'left', font:{family:FONT, size, color:'#222'}});
      cx += textW(sg, size);
    } else {
      const s2 = size * 0.7; let w = 0;
      if (sg[0]) { ann(cx, y - size*0.38, sg[0], {xanchor:'left', font:{family:FONT, size:s2, color:'#222'}}); w = Math.max(w, textW(sg[0], s2)); }
      if (sg[1]) { ann(cx, y + size*0.32, sg[1], {xanchor:'left', font:{family:FONT, size:s2, color:'#222'}}); w = Math.max(w, textW(sg[1], s2)); }
      cx += w + 0.3;
    }
  });
}

PANELS.forEach((rows, p) => {
  const ox = (p % 2) * PANEL_W, oy = Math.floor(p / 2) * PANEL_H;
  ann(ox + 425.5, oy + 8.5, SUPTITLE);
  ann(ox + 425.5, oy + 14.8, 'NeuralGenDice, batch-size=64, hidden-dimensions=(32,), learning-rate=' + LEARNING_RATES[p] + ', mlp-regularizer=0.0');
  rows.forEach((row, r) => {
    ann(ox + 12, oy + ROW_TOP[r] + AX_H/2, ROW_LABELS[r], {textangle:-90, font:{family:FONT,size:FS_TICK,color:'#222'}});
    row.forEach((sp, c) => {
      const n = p*15 + r*5 + c + 1, k = n === 1 ? '' : String(n);
      const L = ox + COL_LEFT[c], Tp = oy + ROW_TOP[r];
      layout['xaxis' + k] = Object.assign({}, AXSTYLE, {domain:[fx(L), fx(L + AX_W)], anchor:'y' + k,
        range:[-5000,105000], tickmode:'array', tickvals:STEP_TICKS, ticktext:STEP_LABELS, showticklabels: r === 2});
      const yax = Object.assign({}, AXSTYLE, {domain:[fy(Tp + AX_H), fy(Tp)], anchor:'x' + k, range:sp.r, tickmode:'array'});
      if (sp.log) {
        yax.type = 'log';
        yax.tickvals = sp.e.map(e => Math.pow(10, e));
        yax.ticktext = sp.e.map(e => '10' + SUP(e));
      } else {
        yax.tickvals = sp.t;
        yax.ticktext = sp.t.map(v => MINUS(v.toFixed(sp.d)));
      }
      layout['yaxis' + k] = yax;
      data.push({type:'scatter', mode:'lines', x:[], y:[], xaxis:'x' + k, yaxis:'y' + k, hoverinfo:'skip', showlegend:false});
      sp.s.forEach(([st, X, Y]) => data.push({type:'scatter', mode:'lines', x:X, y:Y, xaxis:'x' + k, yaxis:'y' + k,
        line:STY[st], hoverinfo:'skip', showlegend:false}));
      ann(L + AX_W/2, Tp - 1.6, 'γ = 1.0, λ = ' + LAMBDAS[c] + ', n-moving-averages=' + MOVING_AVG[r], {yanchor:'bottom'});
      if (r === 2 && c === 4) ann(L + AX_W/2, Tp + AX_H + 13, 'step', {font:{family:FONT,size:FS_TICK,color:'#222'}});
      if (r === 2 && c === 0) ann(L - 3, Tp - 1.6, '1e\u22129', {xanchor:'left', yanchor:'bottom', font:{family:FONT,size:FS_TICK,color:'#222'}});
    });
  });
  // ---- legends (first column) ----
  const box = (x, y, w, h) => layout.shapes.push({type:'rect', xref:'paper', yref:'paper', x0:fx(x), x1:fx(x+w), y0:fy(y+h), y1:fy(y),
     line:{color:'#d4d4d4', width:0.5}, fillcolor:'rgba(255,255,255,0.85)', layer:'above'});
  const item = (x, y, st, segs) => {
     const s = STY[st];
     layout.shapes.push({type:'line', xref:'paper', yref:'paper', x0:fx(x+2.5), x1:fx(x+10), y0:fy(y), y1:fy(y),
       line:{color:s.color, width:Math.max(1, s.width), dash:s.dash||'solid'}, layer:'above'});
     rich(x + 12.5, y, segs, FS_LEG);
  };
  const L0 = ox + COL_LEFT[0];
  const placeX = (loc, w) => loc === 'right' ? L0 + AX_W - 2.5 - w : (loc === 'left' ? L0 + 2.5 : L0 + AX_W/2 - w/2);
  // policy legend
  { const w = 43, h = 31, x = placeX('right', w), y = oy + ROW_TOP[0] + 0.27*AX_H;
    box(x, y, w, h);
    ['pvN','pvG','an'].forEach((st, i) => item(x, y + 5.5 + i*9.8, st, LEGEND_PV_SEGS[i])); }
  // errors legend
  { const lc = LEG_LOC[p].err, w = 61, h = 39, x = placeX(lc[0], w), y = oy + ROW_TOP[1] + lc[1]*AX_H;
    box(x, y, w, h);
    ['eB','eO','eG','eR'].forEach((st, i) => item(x, y + 5.2 + i*9.5, st, LEGEND_ERR_SEGS[i])); }
  // loss legend
  { const lc = LEG_LOC[p].loss, w = 47, h = 12, x = placeX(lc[0], w), y = oy + ROW_TOP[2] + lc[1]*AX_H;
    box(x, y, w, h);
    item(x, y + 6, 'lN', LEGEND_LOSS_SEGS[0]); }
});

Plotly.newPlot('chart', data, layout, {staticPlot:true, displayModeBar:false});
</script></body></html>
